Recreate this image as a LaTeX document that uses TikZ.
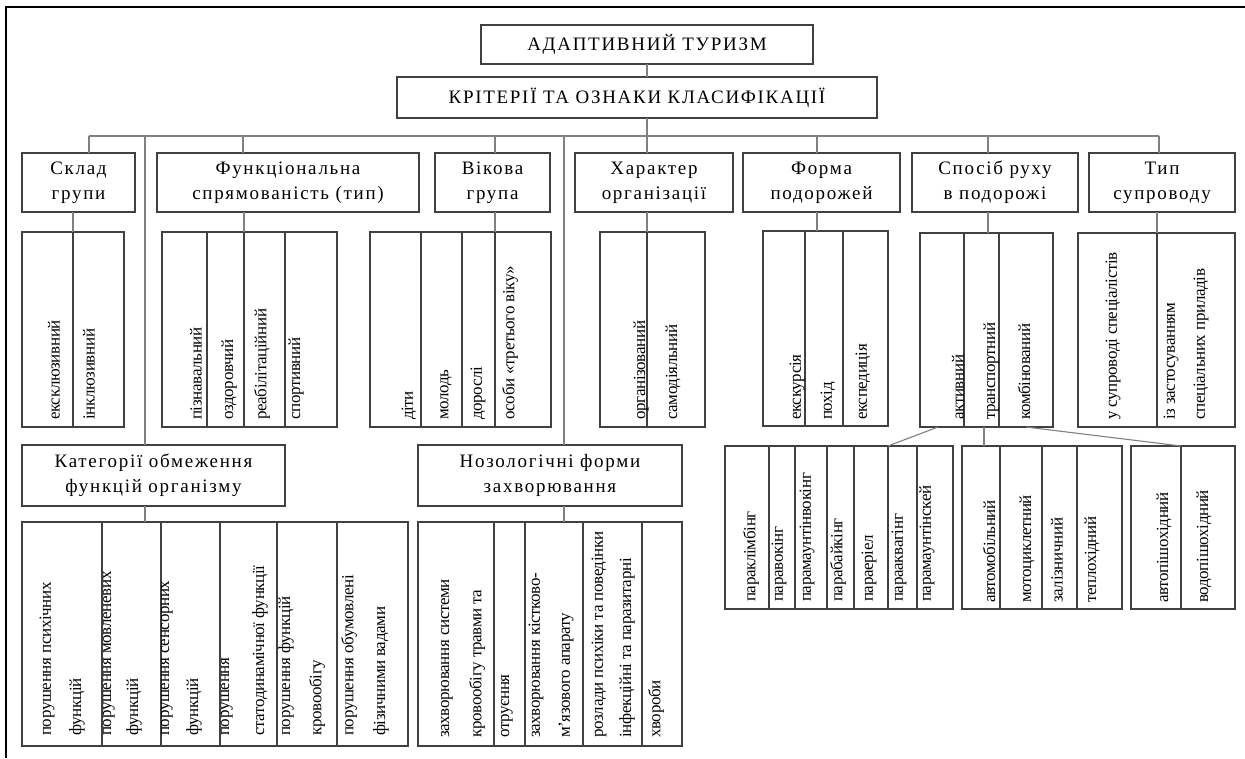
\documentclass[tikz,border=0pt]{standalone}
\usepackage{fontspec}
\setmainfont{Liberation Serif}
\newfontfamily\ttlfont[LetterSpace=9]{Liberation Serif}
\newfontfamily\lffont[LetterSpace=-2]{Liberation Serif}
\newcommand\mkbox[7]{%
  \pgfmathsetmacro\myCX{(#3+#5)/2}%
  \pgfmathsetmacro\myCY{(#4+#6)/2}%
  \pgfmathsetmacro\myBW{#5-#3}%
  \pgfmathsetmacro\myBH{#6-#4}%
  \node[#1, minimum width=\myBW pt, minimum height=\myBH pt] (#2) at (\myCX,\myCY) {#7};}
\newcommand\vt[4]{\node[vtext] (#1) at (#2,#3) {#4};}
\begin{document}
\begin{tikzpicture}[x=1pt,y=-1pt,
  frameline/.style={line width=2.6pt, black},
  conn/.style={draw=black!50, line width=1.1pt},
  tbox/.style={draw=black!75, line width=1.4pt, rectangle, inner sep=0pt, outer sep=0pt, align=center,
    font=\ttlfont\fontsize{19}{25}\selectfont},
  cellbox/.style={draw=black!75, line width=1.4pt, rectangle, inner sep=0pt, outer sep=0pt},
  vtext/.style={rotate=90, anchor=west, inner sep=0pt, font=\lffont\fontsize{17}{17}\selectfont}]
\useasboundingbox (0,0) rectangle (1245,758);
\fill[white] (0,0) rectangle (1245,758);
\draw[frameline] (6,758) -- (6,7) -- (1245,7);

% top boxes
\mkbox{tbox}{top}{481}{25}{813}{64}{АДАПТИВНИЙ ТУРИЗМ}
\mkbox{tbox}{crit}{397}{77}{877}{118}{КРІТЕРІЇ ТА ОЗНАКИ КЛАСИФІКАЦІЇ}

% category boxes
\mkbox{tbox}{skl}{22}{153}{135}{212}{Склад\\групи}
\mkbox{tbox}{fun}{157}{153}{419}{212}{Функціональна\\спрямованість (тип)}
\mkbox{tbox}{vik}{435}{153}{550}{212}{Вікова\\група}
\mkbox{tbox}{har}{575}{153}{733}{212}{Характер\\організації}
\mkbox{tbox}{for}{743}{153}{900}{212}{Форма\\подорожей}
\mkbox{tbox}{spo}{912}{153}{1078}{212}{Спосіб руху\\в подорожі}
\mkbox{tbox}{typ}{1089}{153}{1235}{212}{Тип\\супроводу}
\mkbox{tbox}{kat}{22}{445}{285}{506}{Категорії обмеження\\функцій організму}
\mkbox{tbox}{noz}{418}{445}{682}{506}{Нозологічні форми\\захворювання}

% leaf cells
\mkbox{cellbox}{skl1}{22}{232}{73}{427}{}
\mkbox{cellbox}{skl2}{73}{232}{124}{427}{}
\mkbox{cellbox}{fun1}{162}{232}{207}{427}{}
\mkbox{cellbox}{fun2}{207}{232}{244}{427}{}
\mkbox{cellbox}{fun3}{244}{232}{285}{427}{}
\mkbox{cellbox}{fun4}{285}{232}{337}{427}{}
\mkbox{cellbox}{vik1}{370}{232}{421}{427}{}
\mkbox{cellbox}{vik2}{421}{232}{462}{427}{}
\mkbox{cellbox}{vik3}{462}{232}{495}{427}{}
\mkbox{cellbox}{vik4}{495}{232}{551}{427}{}
\mkbox{cellbox}{har1}{600}{232}{647}{427}{}
\mkbox{cellbox}{har2}{647}{232}{705}{427}{}
\mkbox{cellbox}{for1}{763}{231}{805}{426}{}
\mkbox{cellbox}{for2}{805}{231}{843}{426}{}
\mkbox{cellbox}{for3}{843}{231}{888}{426}{}
\mkbox{cellbox}{spo1}{920}{233}{964}{427}{}
\mkbox{cellbox}{spo2}{964}{233}{999}{427}{}
\mkbox{cellbox}{spo3}{999}{233}{1053}{427}{}
\mkbox{cellbox}{typ1}{1078}{233}{1157}{427}{}
\mkbox{cellbox}{typ2}{1157}{233}{1235}{427}{}
\mkbox{cellbox}{kat1}{22}{522}{102}{746}{}
\mkbox{cellbox}{kat2}{102}{522}{161}{746}{}
\mkbox{cellbox}{kat3}{161}{522}{220}{746}{}
\mkbox{cellbox}{kat4}{220}{522}{277}{746}{}
\mkbox{cellbox}{kat5}{277}{522}{337}{746}{}
\mkbox{cellbox}{kat6}{337}{522}{408}{746}{}
\mkbox{cellbox}{noz1}{418}{522}{494}{746}{}
\mkbox{cellbox}{noz2}{494}{522}{525}{746}{}
\mkbox{cellbox}{noz3}{525}{522}{583}{746}{}
\mkbox{cellbox}{noz4}{583}{522}{642}{746}{}
\mkbox{cellbox}{noz5}{642}{522}{682}{746}{}
\mkbox{cellbox}{pa1}{725}{446}{769}{609}{}
\mkbox{cellbox}{pa2}{769}{446}{795}{609}{}
\mkbox{cellbox}{pa3}{795}{446}{827}{609}{}
\mkbox{cellbox}{pa4}{827}{446}{854}{609}{}
\mkbox{cellbox}{pa5}{854}{446}{888}{609}{}
\mkbox{cellbox}{pa6}{888}{446}{917}{609}{}
\mkbox{cellbox}{pa7}{917}{446}{953}{609}{}
\mkbox{cellbox}{pb1}{962}{446}{1000}{609}{}
\mkbox{cellbox}{pb2}{1000}{446}{1042}{609}{}
\mkbox{cellbox}{pb3}{1042}{446}{1077}{609}{}
\mkbox{cellbox}{pb4}{1077}{446}{1122}{609}{}
\mkbox{cellbox}{pc1}{1131}{446}{1181}{609}{}
\mkbox{cellbox}{pc2}{1181}{446}{1235}{609}{}

% bus coordinates
\coordinate (bSkl) at (89,136);
\coordinate (bKat) at (145,136);
\coordinate (bFun) at (243,136);
\coordinate (bVik) at (495,136);
\coordinate (bNoz) at (564,136);
\coordinate (bHar) at (647,136);
\coordinate (bFor) at (817,136);
\coordinate (bSpo) at (988,136);
\coordinate (bTyp) at (1159,136);
\coordinate (sAct) at (938,427);

% connectors
\draw[conn] (top.south -| bHar) -- (crit.north -| bHar);
\draw[conn] (crit.south -| bHar) -- (har.north -| bHar);
\draw[conn] (bSkl) -- (bTyp);
\draw[conn] (bSkl) -- (skl.north -| bSkl);
\draw[conn] (bKat) -- (kat.north -| bKat);
\draw[conn] (bFun) -- (fun.north -| bFun);
\draw[conn] (bVik) -- (vik.north -| bVik);
\draw[conn] (bNoz) -- (noz.north -| bNoz);
\draw[conn] (bFor) -- (for.north -| bFor);
\draw[conn] (bSpo) -- (spo.north -| bSpo);
\draw[conn] (bTyp) -- (typ.north -| bTyp);

\draw[conn] (skl.south -| skl1.east) -- (skl1.north east);
\draw[conn] (fun.south -| fun2.east) -- (fun2.north east);
\draw[conn] (vik.south -| vik3.east) -- (vik3.north east);
\draw[conn] (har.south -| har1.east) -- (har1.north east);
\draw[conn] (for.south -| bFor) -- (for2.north -| bFor);
\draw[conn] (spo.south -| bSpo) -- (spo2.north -| bSpo);
\draw[conn] (typ.south -| typ1.east) -- (typ1.north east);
\draw[conn] (kat.south -| bKat) -- (kat2.north -| bKat);
\draw[conn] (noz.south -| bNoz) -- (noz3.north -| bNoz);

\draw[conn] (sAct) -- (pa5.north east);
\draw[conn] (spo2.south -| {984,0}) -- (pb1.north -| {984,0});
\draw[conn] (spo3.south) -- (pc1.north east);

% vertical texts
\vt{t1}{54}{420}{ексклюзивний}
\vt{t2}{89}{420}{інклюзивний}
\vt{t3}{196}{420}{пізнавальний}
\vt{t4}{229}{420}{оздоровчий}
\vt{t5}{262}{420}{реабілітаційний}
\vt{t6}{296}{420}{спортивний}
\vt{t7}{409}{420}{діти}
\vt{t8}{446}{420}{молодь}
\vt{t9}{478}{420}{дорослі}
\vt{t10}{510}{420}{особи «третього віку»}
\vt{t11}{641}{420}{організований}
\vt{t12}{673}{420}{самодіяльний}
\vt{t13}{797}{420}{екскурсія}
\vt{t14}{828}{420}{похід}
\vt{t15}{863}{420}{експедиція}
\vt{t16}{958}{420}{активний}
\vt{t17}{991}{420}{транспортний}
\vt{t18}{1024}{420}{комбінований}
\vt{t19}{1113}{420}{у супроводі спеціалістів}
\vt{t20}{1171}{420}{із застосуванням}
\vt{t21}{1201}{420}{спеціальних приладів}

\vt{k1a}{47}{736}{порушення психічних}
\vt{k1b}{77}{736}{функцій}
\vt{k2a}{109}{736}{порушення мовленевих}
\vt{k2b}{134}{736}{функцій}
\vt{k3a}{167}{736}{порушення сенсорних}
\vt{k3b}{194}{736}{функцій}
\vt{k4a}{227}{736}{порушення}
\vt{k4b}{260}{736}{статодинамічної функції}
\vt{k5a}{286}{736}{порушення функцій}
\vt{k5b}{317}{736}{кровообігу}
\vt{k6a}{349}{736}{порушення обумовлені}
\vt{k6b}{381}{736}{фізичними вадами}

\vt{n1a}{447}{738}{захворювання системи}
\vt{n1b}{477}{738}{кровообігу травми та}
\vt{n2}{507}{738}{отруєння}
\vt{n3a}{536}{738}{захворювання кістково-}
\vt{n3b}{566}{738}{м’язового апарату}
\vt{n4a}{599}{738}{розлади психіки та поведінки}
\vt{n4b}{627}{738}{інфекційні та паразитарні}
\vt{n5}{656}{738}{хвороби}

\vt{a1}{751}{602}{параклімбінг}
\vt{a2}{779}{602}{паравокінг}
\vt{a3}{807}{602}{парамаунтінвокінг}
\vt{a4}{838}{602}{парабайкінг}
\vt{a5}{869}{602}{параеріел}
\vt{a6}{899}{602}{парааквагінг}
\vt{a7}{927}{602}{парамаунтінскей}
\vt{b1}{989}{603}{автомобільний}
\vt{b2}{1027}{603}{мотоциклетний}
\vt{b3}{1057}{603}{залізничний}
\vt{b4}{1092}{603}{теплохідний}
\vt{c1}{1164}{603}{автопішохідний}
\vt{c2}{1204}{603}{водопішохідний}
\end{tikzpicture}
\end{document}
